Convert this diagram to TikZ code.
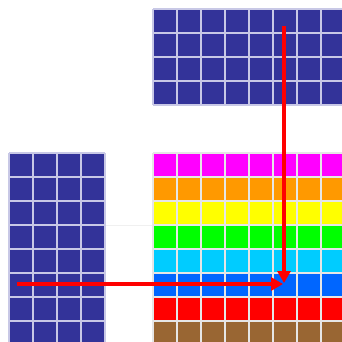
\documentclass[tikz,border=0pt]{standalone}
\usetikzlibrary{arrows.meta}
\definecolor{navy}{HTML}{333399}
\definecolor{gl}{HTML}{C8C8E6}
\definecolor{gw}{HTML}{E6E6E6}
\definecolor{colmag}{HTML}{FF00FF}
\definecolor{colora}{HTML}{FF9900}
\definecolor{colyel}{HTML}{FFFF00}
\definecolor{colgre}{HTML}{00FF00}
\definecolor{colcya}{HTML}{00CCFF}
\definecolor{colblu}{HTML}{0066FF}
\definecolor{colred}{HTML}{FF0000}
\definecolor{colbro}{HTML}{996633}
\tikzset{
  gridln/.style={line width=1.3pt},
  arr/.style={draw=red, line width=3.6pt, -{Triangle[length=12pt,width=13pt]}, shorten >=-1pt}
}
\begin{document}
\begin{tikzpicture}[x=1pt,y=-1pt]
\useasboundingbox (0,0) rectangle (342,341);
\clip (0,0) rectangle (342,341);
\fill[white] (0,0) rectangle (342,341);
% faint line
\draw[line width=0.8pt, black!6] (105,225) -- (153,225);
% top grid
\fill[navy] (153,9) rectangle (345,105);
\foreach \i in {0,...,8} \draw[gridln,draw=gl] (153+24*\i,9) -- (153+24*\i,105);
\foreach \j in {0,...,4} \draw[gridln,draw=gl] (153,9+24*\j) -- (345,9+24*\j);
% left grid
\fill[navy] (9,153) rectangle (105,345);
\foreach \i in {0,...,4} \draw[gridln,draw=gl] (9+24*\i,153) -- (9+24*\i,345);
\foreach \j in {0,...,8} \draw[gridln,draw=gl] (9,153+24*\j) -- (105,153+24*\j);
% colour grid
\foreach \c [count=\k from 0] in {colmag,colora,colyel,colgre,colcya,colblu,colred,colbro}
  \fill[fill=\c] (153,153+24*\k) rectangle (345,177+24*\k);
\foreach \i in {0,...,8} \draw[gridln,draw=gw] (153+24*\i,153) -- (153+24*\i,345);
\foreach \j in {0,...,8} \draw[gridln,draw=gw] (153,153+24*\j) -- (345,153+24*\j);
% arrows
\coordinate (vs) at (284,26);
\coordinate (ve) at (284,282);
\coordinate (hs) at (17,284);
\coordinate (he) at (282,284);
\draw[arr] (vs) -- (ve);
\draw[arr] (hs) -- (he);
\end{tikzpicture}
\end{document}
